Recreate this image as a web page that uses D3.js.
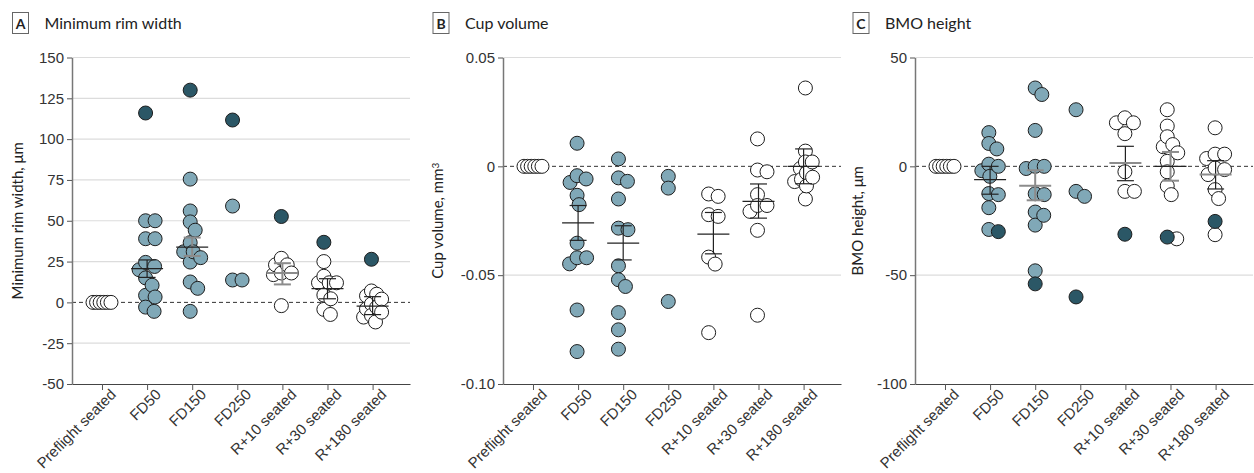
<!DOCTYPE html>
<html>
<head>
<meta charset="utf-8">
<script src="https://cdn.jsdelivr.net/npm/d3@7"></script>
<style>
  body { margin: 0; background: #fff; }
  svg { font-family: Lato, "Open Sans", sans-serif; }
  .tick text { fill: #333; }
</style>
</head>
<body>
<div id="chart"></div>
<script>
// categories (x axis)
const categories = ["Preflight seated", "FD50", "FD150", "FD250", "R+10 seated", "R+30 seated", "R+180 seated"];

// A: minimum rim width, um  (light points per category, highlighted subject separately)
const rimValues = [
  [0, 0, 0, 0, 0, 0],
  [50, 50, 39, 39, 24.5, 22, 20, 15, 10.5, 4.3, 3.3, -2.9, -5.5],
  [75.5, 56, 49.3, 44.2, 36.6, 31, 31, 27.4, 24.7, 12.5, 8.6, -5.5],
  [59, 13.7, 13.7],
  [27, 23, 23, 18, 18, 17, -2],
  [25, 16, 12, 12, 12, 4.5, 2.2, -4.3, -7.4],
  [7, 5, 4, 2, -1, -3, -4, -6, -8, -9, -12]
];
const rimDark = [null, 116, 130, 111.7, 52.6, 36.8, 26.4];
const rimMean = [null, 20.7, 33.9, null, 18, 8.4, -2.3];
const rimLow  = [null, 15.3, 28.4, null, 11, 2.2, -7.5];
const rimHigh = [null, 26, 39.7, null, 24, 14.5, 3.5];
const rimTicks = [-50, -25, 0, 25, 50, 75, 100, 125, 150];
const rimTickLabels = ["-50", "-25", "0", "25", "50", "75", "100", "125", "150"];

// B: cup volume, mm3
const cupValues = [
  [0, 0, 0, 0, 0, 0],
  [0.0106, -0.0043, -0.0058, -0.0074, -0.0133, -0.0176, -0.0353, -0.042, -0.042, -0.0448, -0.066, -0.0851],
  [0.0034, -0.0053, -0.0069, -0.015, -0.0284, -0.0291, -0.0457, -0.0521, -0.0552, -0.0672, -0.0751, -0.084],
  [-0.0046, -0.01, -0.0621],
  [-0.0127, -0.0138, -0.0222, -0.023, -0.0417, -0.0449, -0.0764],
  [0.0126, -0.0017, -0.0025, -0.013, -0.018, -0.018, -0.0207, -0.0294, -0.0684],
  [0.036, 0.007, 0.002, 0.002, -0.001, -0.003, -0.005, -0.006, -0.007, -0.009, -0.015]
];
const cupDark = [null, null, null, null, null, null, null];
const cupMean = [null, -0.026, -0.0353, null, -0.0311, -0.0161, 0];
const cupLow  = [null, -0.034, -0.043, null, -0.0402, -0.0238, -0.008];
const cupHigh = [null, -0.018, -0.0273, null, -0.0212, -0.0081, 0.008];
const cupTicks = [-0.10, -0.05, 0, 0.05];
const cupTickLabels = ["-0.10", "-0.05", "0", "0.05"];

// C: BMO height, um
const bmoValues = [
  [0, 0, 0, 0, 0, 0],
  [15.5, 10.5, 8, 1, 0, -2, -4.6, -12.5, -13, -19, -29],
  [36, 33, 16.5, 0, 0, -1, -12.6, -13, -21, -22.5, -27, -48],
  [26, -11.5, -13.8],
  [22.3, 20, 20, 15, -2.5, -11.5, -11.5],
  [26, 18.5, 13.6, 10, 9, 6.2, 2.3, -2.5, -9, -13, -33.3],
  [17.7, 5.6, 5.6, 3.6, -0.8, -1.5, -3.8, -10.7, -14.8, -31.4]
];
const bmoDark = [null, -30, -54, -60, -31.2, -32.5, -25.3];
const bmoMean = [null, -6.1, -8.9, null, 1.5, 0, -3.8];
const bmoLow  = [null, -12.8, -15.6, null, -6.6, -6.6, -10.4];
const bmoHigh = [null, 0, -1.8, null, 9.2, 6.6, 2.6];
const bmoTicks = [-100, -50, 0, 50];
const bmoTickLabels = ["-100", "-50", "0", "50"];

// which summary parts are drawn gray in the original
const grayParts = {
  A: { "FD150": "err", "R+10 seated": "both" },
  B: {},
  C: { "FD150": "both", "R+10 seated": "mean", "R+30 seated": "err", "R+180 seated": "mean" }
};

const panels = [
  { key: "A", title: "Minimum rim width", ylabel: "Minimum rim width, μm", values: rimValues, dark: rimDark,
    mean: rimMean, low: rimLow, high: rimHigh, domain: [-50, 150], ticks: rimTicks, tickLabels: rimTickLabels,
    left: 12.5, axisX: 72 },
  { key: "B", title: "Cup volume", ylabel: "Cup volume, mm", sup: "3", values: cupValues, dark: cupDark,
    mean: cupMean, low: cupLow, high: cupHigh, domain: [-0.10, 0.05], ticks: cupTicks, tickLabels: cupTickLabels,
    left: 433, axisX: 503 },
  { key: "C", title: "BMO height", ylabel: "BMO height, μm", values: bmoValues, dark: bmoDark,
    mean: bmoMean, low: bmoLow, high: bmoHigh, domain: [-100, 50], ticks: bmoTicks, tickLabels: bmoTickLabels,
    left: 853, axisX: 915 }
];

const width = 1254, height = 473;
const plotTop = 57.5, plotBottom = 384, plotWidth = 338;
const r = 7;
const fillFD = "#80a8b7", fillDark = "#2b5766", fillWhite = "#ffffff";

const svg = d3.select("#chart").append("svg")
  .attr("width", width)
  .attr("height", height);

// simple deterministic beeswarm: smallest horizontal offset that keeps distance >= minD
function swarm(points, minD, maxHalf) {
  const placed = [];
  points.forEach(p => {
    let off = 0;
    for (let k = 0; k < 400; k++) {
      const cand = k === 0 ? 0 : (k % 2 ? 1 : -1) * Math.ceil(k / 2) * 0.5;
      const ok = placed.every(q => (cand - q.off) ** 2 + (p.py - q.py) ** 2 >= minD * minD);
      if (ok) { off = cand; break; }
    }
    p.off = off;
    placed.push(p);
  });
  const ext = d3.extent(points, p => p.off);
  const mid = (ext[0] + ext[1]) / 2;
  const half = (ext[1] - ext[0]) / 2;
  const k = half > maxHalf ? maxHalf / half : 1;
  points.forEach(p => { p.off = (p.off - mid) * k; });
  return points;
}

panels.forEach(P => {
  const g = svg.append("g");

  const y = d3.scaleLinear().domain(P.domain).range([plotBottom, plotTop]);
  const x = d3.scalePoint().domain(categories)
    .range([P.axisX, P.axisX + plotWidth]).padding(0.747).align(0.445);

  // header
  g.append("rect")
    .attr("x", P.left).attr("y", 12.5).attr("width", 16).attr("height", 21)
    .attr("fill", "#fff").attr("stroke", "#666").attr("stroke-width", 1);
  g.append("text")
    .attr("x", P.left + 8).attr("y", 28.5)
    .attr("text-anchor", "middle").attr("font-weight", "bold").attr("font-size", 14)
    .attr("fill", "#222").text(P.key);
  g.append("text")
    .attr("x", P.left + 32).attr("y", 28.5)
    .attr("font-size", 16).attr("fill", "#222").text(P.title);

  // grid
  g.append("g").selectAll("line")
    .data(P.ticks.filter(t => t !== 0 && t !== P.domain[0]))
    .join("line")
      .attr("x1", P.axisX).attr("x2", P.axisX + plotWidth)
      .attr("y1", d => y(d)).attr("y2", d => y(d))
      .attr("stroke", "#dcdcdc").attr("stroke-width", 1.2);

  // zero line
  g.append("line")
    .attr("x1", P.axisX).attr("x2", P.axisX + plotWidth)
    .attr("y1", y(0)).attr("y2", y(0))
    .attr("stroke", "#333").attr("stroke-width", 1)
    .attr("stroke-dasharray", "4,3");

  // axes
  const yAxis = g.append("g")
    .attr("transform", `translate(${P.axisX},0)`)
    .call(d3.axisLeft(y).tickValues(P.ticks).tickSize(5).tickSizeOuter(0).tickPadding(3)
      .tickFormat((d, i) => P.tickLabels[i]));
  yAxis.selectAll("text").attr("font-size", 15).attr("font-family", null);
  yAxis.select(".domain").attr("stroke", "#777").attr("stroke-width", 1.5);
  yAxis.selectAll(".tick line").attr("stroke", "#555");

  const xAxis = g.append("g")
    .attr("transform", `translate(0,${plotBottom})`)
    .call(d3.axisBottom(x).tickSize(6).tickSizeOuter(0));
  xAxis.select(".domain").attr("stroke", "#444").attr("stroke-width", 1.2);
  xAxis.selectAll(".tick line").attr("stroke", "#555");
  xAxis.selectAll("text")
    .attr("font-size", 15).attr("font-family", null)
    .attr("text-anchor", "end")
    .attr("transform", "translate(7,4) rotate(-45)")
    .attr("dy", "0.7em").attr("y", 0).attr("x", 0);

  // y label
  const yl = g.append("text")
    .attr("transform", `translate(${P.left + 10},${(plotTop + plotBottom) / 2}) rotate(-90)`)
    .attr("text-anchor", "middle").attr("font-size", 15).attr("fill", "#222")
    .text(P.ylabel);
  if (P.sup) yl.append("tspan").attr("dy", "-0.45em").attr("font-size", 10).text(P.sup);

  // points
  const all = [];
  categories.forEach((c, ci) => {
    const grp = P.values[ci].map(v => ({ c, v, dark: false, py: y(v) }));
    if (P.dark[ci] !== null) grp.push({ c, v: P.dark[ci], dark: true, py: y(P.dark[ci]) });
    grp.sort((a, b) => b.v - a.v);
    swarm(grp, 9.5, 9);
    all.push(...grp);
  });
  // light points first, then left to right within each group
  all.sort((a, b) => (a.dark - b.dark) || (a.off - b.off));

  g.append("g").selectAll("circle")
    .data(all)
    .join("circle")
      .attr("cx", d => x(d.c) + d.off)
      .attr("cy", d => d.py)
      .attr("r", r)
      .attr("fill", d => d.dark ? fillDark : (d.c.startsWith("FD") ? fillFD : fillWhite))
      .attr("stroke", "#1e1e1e")
      .attr("stroke-width", 1);

  // mean +- error
  const summ = categories.map((c, ci) => ({ c, m: P.mean[ci], lo: P.low[ci], hi: P.high[ci], gray: grayParts[P.key][c] }))
    .filter(d => d.m !== null);
  const sg = g.append("g");
  const ink = (d, part) => (d.gray === "both" || d.gray === part) ? "#8c8c8c" : "#222";
  const inkW = (d, part) => (d.gray === "both" || d.gray === part) ? 2 : 1.2;
  summ.forEach(d => {
    const cx = x(d.c);
    sg.append("line").attr("x1", cx).attr("x2", cx).attr("y1", y(d.lo)).attr("y2", y(d.hi))
      .attr("stroke", ink(d, "err")).attr("stroke-width", inkW(d, "err"));
    [d.lo, d.hi].forEach(v => {
      sg.append("line").attr("x1", cx - 8.5).attr("x2", cx + 8.5).attr("y1", y(v)).attr("y2", y(v))
        .attr("stroke", ink(d, "err")).attr("stroke-width", inkW(d, "err"));
    });
    sg.append("line").attr("x1", cx - 16).attr("x2", cx + 16).attr("y1", y(d.m)).attr("y2", y(d.m))
      .attr("stroke", ink(d, "mean")).attr("stroke-width", inkW(d, "mean"));
  });
});
</script>
</body>
</html>
